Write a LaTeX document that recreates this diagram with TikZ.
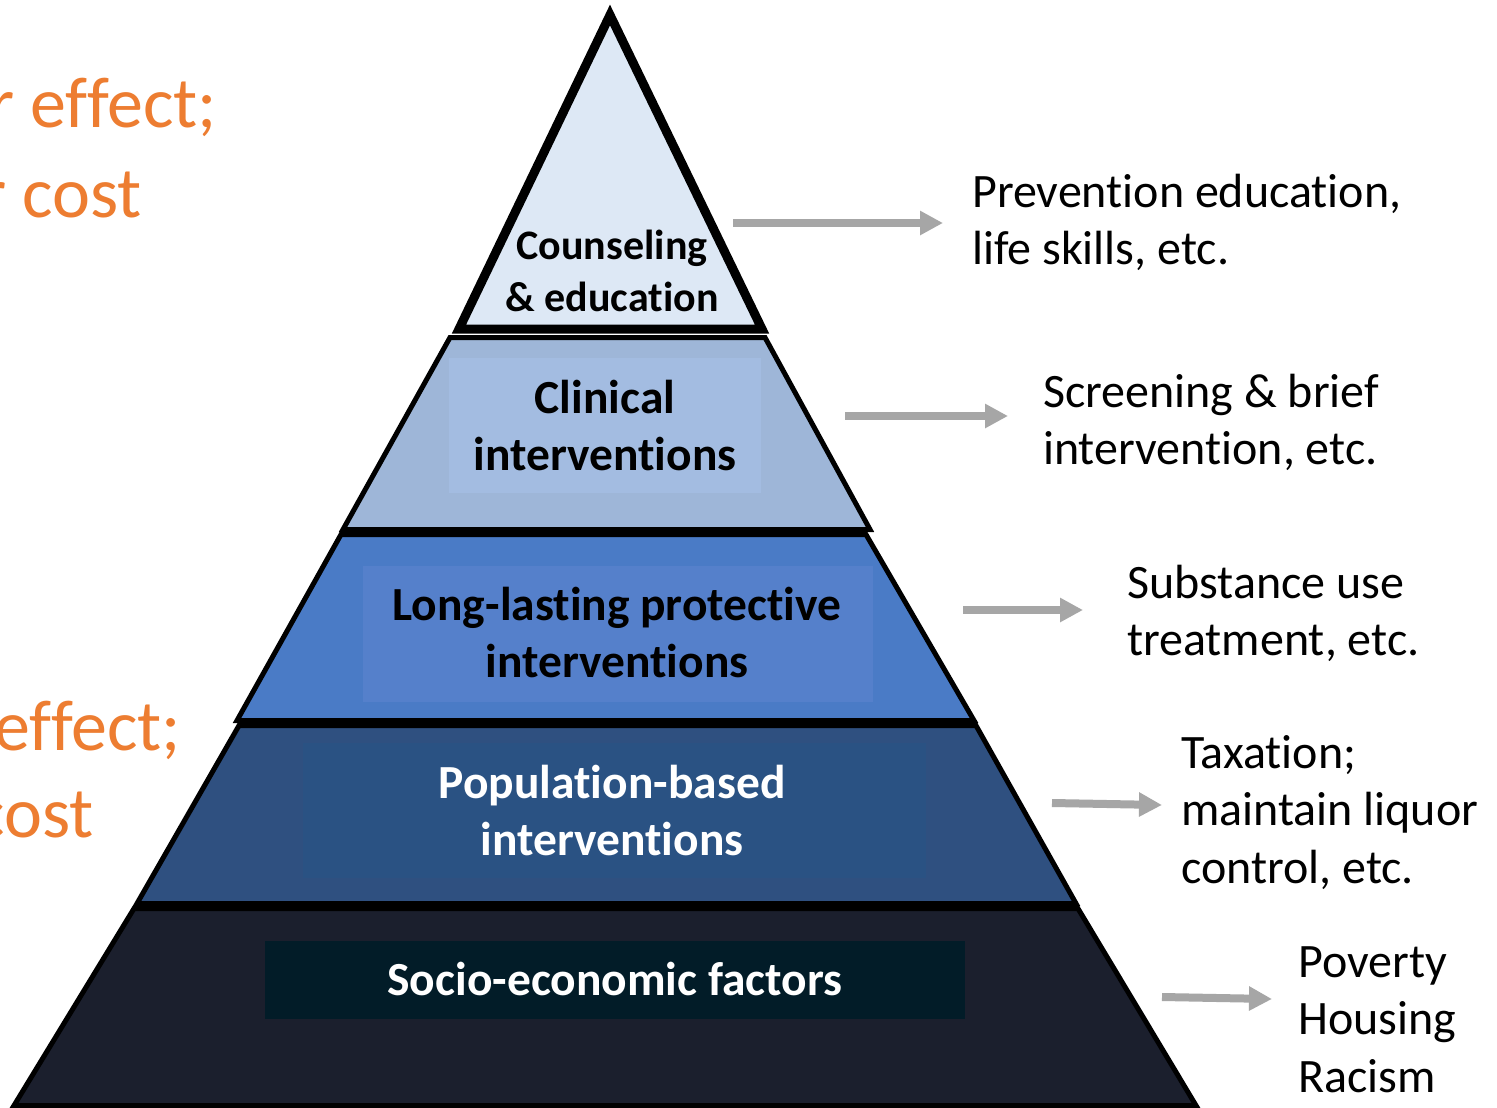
\documentclass[tikz,border=0pt]{standalone}
\usepackage{fontspec}
\setmainfont{Carlito}[Ligatures={NoCommon}]
\usetikzlibrary{arrows.meta}
\definecolor{orangec}{HTML}{ED7D31}
\definecolor{agray}{HTML}{A6A6A6}
\definecolor{triF}{HTML}{DDE8F5}
\definecolor{cliF}{HTML}{9EB6D8}
\definecolor{cliI}{HTML}{A3BCE1}
\definecolor{lonF}{HTML}{4A7BC6}
\definecolor{lonI}{HTML}{5580CB}
\definecolor{popF}{HTML}{2F5080}
\definecolor{popI}{HTML}{2A5283}
\definecolor{socF}{HTML}{1B1F2D}
\definecolor{socI}{HTML}{021C28}
\begin{document}
\begin{tikzpicture}[x=1pt,y=-1pt,
  layer/.style={draw=black,line width=5pt,line join=miter},
  lbl/.style={font=\bfseries\fontsize{47.5}{57}\selectfont,anchor=base,inner sep=0pt},
  side/.style={font=\fontsize{48}{57.5}\selectfont,anchor=base west,inner sep=0pt},
  orng/.style={text=orangec,font=\fontsize{72}{88}\selectfont,anchor=base east,inner sep=0pt},
  conn/.style={draw=agray,line width=8pt,-{Triangle[length=23pt,width=23pt]}}]
\useasboundingbox (0,0) rectangle (1497,1108);
\clip (0,0) rectangle (1497,1108);
\fill[white] (0,0) rectangle (1497,1108);

% orange side texts (cropped at the left edge, as in the reference)
\node[orng] (o1) at (217,127) {r effect;};
\node[orng] (o2) at (142,217) {r cost};
\node[orng] (o3) at (181,750) {effect;};
\node[orng] (o4) at (94,837) {cost};

% pyramid layers
\draw[layer,fill=socF] (134,908.5) -- (1078,908.5) -- (1196,1105.5) -- (14,1105.5) -- cycle;
\fill[socI] (265,941) rectangle (965,1019);
\draw[layer,fill=popF] (239,725.5) -- (976,725.5) -- (1076,903.5) -- (137,903.5) -- cycle;
\fill[popI] (303,743) rectangle (926,878);
\draw[layer,fill=lonF] (341,534.5) -- (866,534.5) -- (974,720.5) -- (237,720.5) -- cycle;
\fill[lonI] (363,566) rectangle (873,702);
\draw[layer,fill=cliF] (450,337.5) -- (765,337.5) -- (870,529.5) -- (343,529.5) -- cycle;
\fill[cliI] (449,358) rectangle (761,493);
\draw[layer,line width=9pt,fill=triF] (610,15) -- (762,329) -- (459,329) -- cycle;

% layer labels
\node[lbl,font=\bfseries\fontsize{42}{52}\selectfont] (l1) at (612,259) {\begin{tabular}[t]{@{}c@{}}Counseling\\\& education\end{tabular}};
\node[lbl] (l2) at (605,413) {\begin{tabular}[t]{@{}c@{}}Clinical\\interventions\end{tabular}};
\node[lbl] (l3) at (617,620) {\begin{tabular}[t]{@{}c@{}}Long-lasting protective\\interventions\end{tabular}};
\node[lbl,text=white] (l4) at (612,798) {\begin{tabular}[t]{@{}c@{}}Population-based\\interventions\end{tabular}};
\node[lbl,text=white] (l5) at (615,995) {Socio-economic factors};

% right texts
\node[side] (r1) at (972,207) {\begin{tabular}[t]{@{}l@{}}Prevention education,\\life skills, etc.\end{tabular}};
\node[side] (r2) at (1043,407) {\begin{tabular}[t]{@{}l@{}}Screening \& brief\\intervention, etc.\end{tabular}};
\node[side] (r3) at (1127,598) {\begin{tabular}[t]{@{}l@{}}Substance use\\treatment, etc.\end{tabular}};
\node[side] (r4) at (1181,768) {\begin{tabular}[t]{@{}l@{}}Taxation;\\maintain liquor\\control, etc.\end{tabular}};
\node[side] (r5) at (1298,977) {\begin{tabular}[t]{@{}l@{}}Poverty\\Housing\\Racism\end{tabular}};

% arrows
\coordinate (a1s) at (733,223); \coordinate (a1e) at (943,223);
\coordinate (a2s) at (845,416); \coordinate (a2e) at (1008,416);
\coordinate (a3s) at (963,610); \coordinate (a3e) at (1083,610);
\coordinate (a4s) at (1052,803); \coordinate (a4e) at (1162,805);
\coordinate (a5s) at (1162,997); \coordinate (a5e) at (1272,999);
\draw[conn] (a1s) -- (a1e);
\draw[conn] (a2s) -- (a2e);
\draw[conn] (a3s) -- (a3e);
\draw[conn] (a4s) -- (a4e);
\draw[conn] (a5s) -- (a5e);
\end{tikzpicture}
\end{document}
